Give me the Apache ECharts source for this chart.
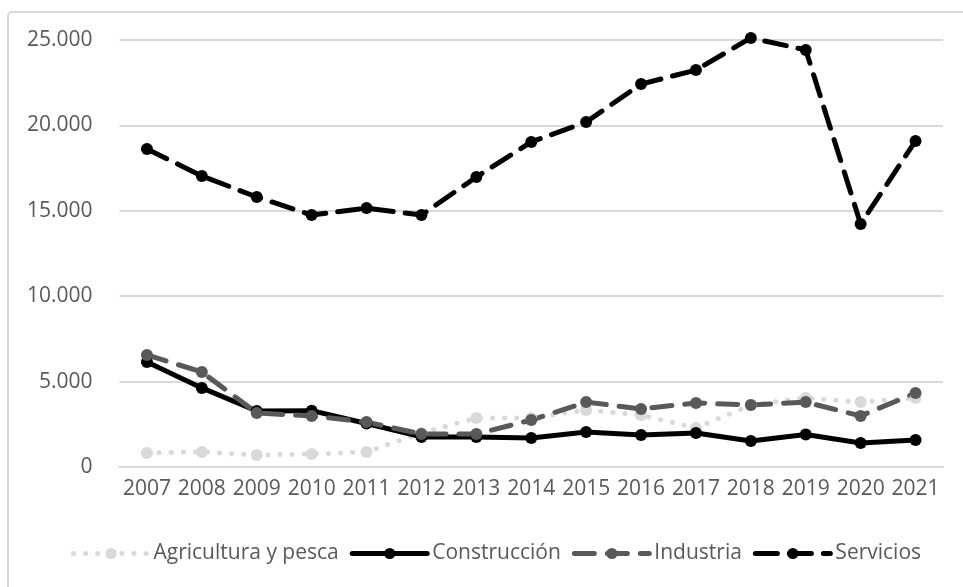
<!DOCTYPE html>
<html>
<head>
<meta charset="utf-8">
<script src="https://cdn.jsdelivr.net/npm/echarts@6/dist/echarts.min.js"></script>
<style>html,body{margin:0;padding:0;background:#fff}#c{width:963px;height:587px}</style>
</head>
<body>
<div id="c"></div>
<script>
const years = ['2007','2008','2009','2010','2011','2012','2013','2014','2015','2016','2017','2018','2019','2020','2021'];
const agricultura = [820, 880, 700, 760, 880, 1990, 2870, 2870, 3340, 3040, 2280, 3630, 4040, 3800, 4040];
const construccion = [6150, 4630, 3280, 3300, 2550, 1760, 1760, 1700, 2050, 1870, 1990, 1520, 1900, 1400, 1580];
const industria = [6560, 5560, 3160, 2990, 2630, 1930, 1930, 2750, 3800, 3400, 3750, 3630, 3800, 2990, 4330];
const servicios = [18620, 17040, 15810, 14750, 15160, 14750, 16980, 19030, 20200, 22420, 23240, 25120, 24420, 14230, 19090];
const yTicks = [0, 5000, 10000, 15000, 20000, 25000];

const font = 'Open Sans';
const txt = '#595959';
const chart = echarts.init(document.getElementById('c'), null, {renderer: 'canvas'});
function fmt(v){ return v === 0 ? '0' : String(v).replace(/\B(?=(\d{3})+(?!\d))/g, '.'); }
function mk(name, data, color, width, dash, symSize){
  return {
    name: name, type: 'line', data: data,
    symbol: 'circle', symbolSize: symSize, showSymbol: true,
    itemStyle: {color: color},
    lineStyle: {color: color, width: width, type: dash, cap: 'round', join: 'round'},
    emphasis: {disabled: true}, animation: false, clip: false
  };
}
chart.setOption({
  animation: false,
  graphic: [{type: 'rect', shape: {x: 8, y: 12, width: 970, height: 600, r: 4},
    style: {fill: 'none', stroke: '#d9d9d9', lineWidth: 2}, z: -10}],
  grid: {left: 119.5, right: 20, top: 40, bottom: 120, containLabel: false},
  legend: {
    bottom: 18, left: 66, itemWidth: 75, itemHeight: 14, itemGap: 11,
    lineStyle: {width: 5, cap: 'round'},
    textStyle: {fontFamily: font, fontSize: 21, color: txt},
    data: ['Agricultura y pesca', 'Construcción', 'Industria', 'Servicios']
  },
  xAxis: {
    type: 'category', data: years, boundaryGap: true,
    axisLine: {lineStyle: {color: '#d9d9d9', width: 2}},
    axisTick: {show: false},
    axisLabel: {fontFamily: font, fontSize: 21, color: txt, margin: 12, interval: 0}
  },
  yAxis: {
    type: 'value', min: yTicks[0], max: yTicks[yTicks.length - 1], interval: 5000,
    axisLine: {show: false}, axisTick: {show: false},
    splitLine: {lineStyle: {color: '#d9d9d9', width: 2}},
    axisLabel: {fontFamily: font, fontSize: 21, color: txt, margin: 27, formatter: fmt}
  },
  series: [
    mk('Agricultura y pesca', agricultura, '#d9d9d9', 5, [0.1, 12], 12),
    mk('Construcción', construccion, '#000000', 5, 'solid', 12),
    mk('Industria', industria, '#595959', 5, [20, 13], 12),
    mk('Servicios', servicios, '#000000', 5, [22, 12], 12)
  ]
});
</script>
</body>
</html>
